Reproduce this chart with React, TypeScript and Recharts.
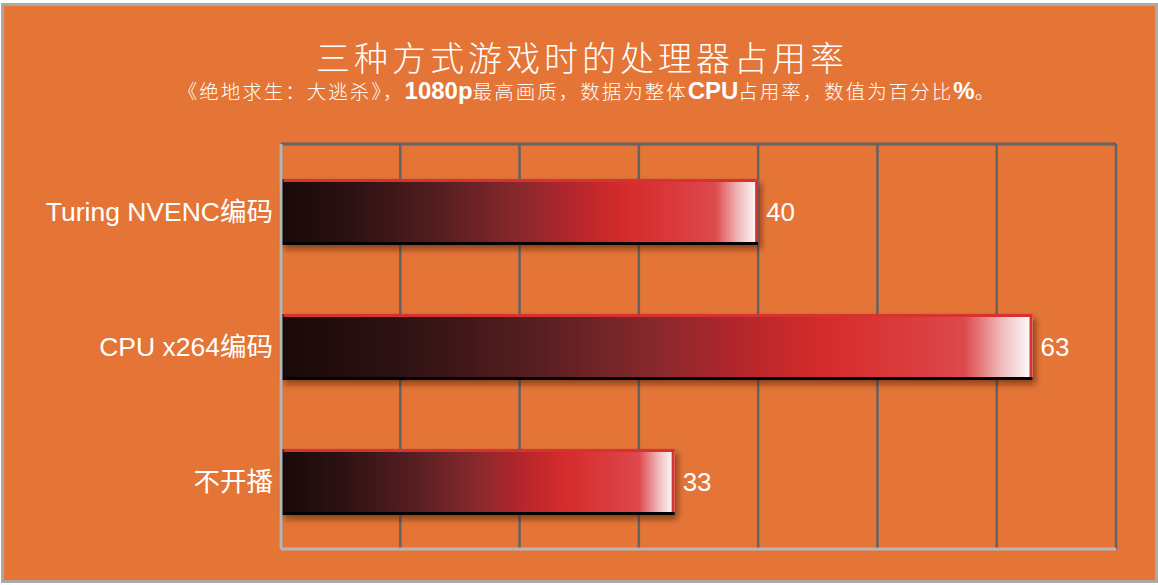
import React from 'react';
import {
    BarChart,
    Bar,
    XAxis,
    YAxis,
    CartesianGrid,
    LabelList
} from 'recharts';

const categories = ['Turing NVENC编码', 'CPU x264编码', '不开播'];
const cpuUsage = [40, 63, 33];
const xTicks = [0, 10, 20, 30, 40, 50, 60, 70];

const data = categories.map((name, i) => ({ name, value: cpuUsage[i] }));

const ORANGE = '#e47537';
const FONT = '"Liberation Sans", Arial, "Noto Sans CJK SC", sans-serif';
const boldPart = { fontFamily: FONT, fontWeight: 700, fontSize: 24, letterSpacing: 0 };

const GlossyBar = (props: any) => {
    const { x, y, width, height } = props;
    if (!width || width <= 0) return null;
    return (
        <g>
            <rect x={x + 3} y={y + 4} width={width} height={height} fill="rgba(60,20,0,0.55)" filter="url(#barShadow)" />
            <rect x={x} y={y} width={width} height={height} fill="url(#barGrad)" />
            <rect x={x} y={y} width={width} height={3} fill="#d83230" />
            <rect x={width + x - 3} y={y} width={3} height={height} fill="#d83230" />
            <rect x={x} y={y} width={2.5} height={height} fill="#0c0505" />
            <rect x={x} y={y + height - 3} width={width} height={3} fill="#050202" />
        </g>
    );
};

const NoTick = () => <g />;

const App = () => {
    return (
        <div style={{ position: 'fixed', left: 0, top: 0, width: 1158, height: 585, background: '#fff' }}>
            <div
                style={{
                    position: 'absolute',
                    left: 1,
                    top: 3,
                    width: 1151,
                    height: 574,
                    border: '3px solid #a9a9a9',
                    background: ORANGE
                }}
            />
            <div
                style={{
                    position: 'absolute',
                    left: 0,
                    top: 40,
                    width: 1164,
                    textAlign: 'center',
                    color: '#fff',
                    fontFamily: '"Noto Sans CJK SC", sans-serif',
                    fontWeight: 300,
                    fontSize: 34,
                    letterSpacing: 4,
                    lineHeight: '34px'
                }}
            >
                三种方式游戏时的处理器占用率
            </div>
            <div
                style={{
                    position: 'absolute',
                    left: 0,
                    top: 79,
                    width: 1174,
                    textAlign: 'center',
                    color: '#fff',
                    fontFamily: '"Noto Sans CJK SC", sans-serif',
                    fontWeight: 300,
                    fontSize: 19.5,
                    letterSpacing: 2,
                    lineHeight: '24px',
                    whiteSpace: 'nowrap'
                }}
            >
                《绝地求生：大逃杀》，<b style={boldPart}>1080p</b>最高画质，数据为整体
                <b style={boldPart}>CPU</b>占用率，数值为百分比
                <b style={boldPart}>%</b>。
            </div>
            <div style={{ position: 'absolute', left: 0, top: 0 }}>
                <BarChart
                    width={1158}
                    height={585}
                    data={data}
                    layout="vertical"
                    margin={{ top: 142, right: 42, bottom: 34, left: 0 }}
                >
                    <defs>
                        <linearGradient id="barGrad" x1="0" y1="0" x2="1" y2="0">
                            <stop offset="0%" stopColor="#1a0909" />
                            <stop offset="15%" stopColor="#2c1112" />
                            <stop offset="35%" stopColor="#5a1f22" />
                            <stop offset="50%" stopColor="#88292c" />
                            <stop offset="60%" stopColor="#b0262c" />
                            <stop offset="72%" stopColor="#d62b2b" />
                            <stop offset="84%" stopColor="#db3c3f" />
                            <stop offset="91%" stopColor="#dd4a4d" />
                            <stop offset="96%" stopColor="#f0bcbd" />
                            <stop offset="100%" stopColor="#ffffff" />
                        </linearGradient>
                        <filter id="barShadow" x="-5%" y="-30%" width="110%" height="160%">
                            <feGaussianBlur stdDeviation="3" />
                        </filter>
                    </defs>
                    <CartesianGrid horizontal={false} stroke="#636363" strokeWidth={2.5} />
                    <XAxis
                        type="number"
                        domain={[0, 70]}
                        ticks={xTicks}
                        interval={0}
                        tick={<NoTick />}
                        tickLine={false}
                        height={2}
                        axisLine={{ stroke: '#b5b5b5', strokeWidth: 3 }}
                    />
                    <XAxis
                        xAxisId="top"
                        orientation="top"
                        type="number"
                        domain={[0, 70]}
                        ticks={xTicks}
                        tick={false}
                        tickLine={false}
                        height={2}
                        axisLine={{ stroke: '#636363', strokeWidth: 3 }}
                    />
                    <YAxis
                        type="category"
                        dataKey="name"
                        width={281}
                        tickLine={false}
                        axisLine={{ stroke: '#b5b5b5', strokeWidth: 3 }}
                        tick={{ fill: '#ffffff', fontSize: 26.5, fontFamily: FONT }}
                    />
                    <Bar dataKey="value" barSize={66} shape={<GlossyBar />} isAnimationActive={false}>
                        <LabelList
                            dataKey="value"
                            position="right"
                            offset={8}
                            fill="#ffffff"
                            fontSize={26}
                            fontFamily={FONT}
                        />
                    </Bar>
                </BarChart>
            </div>
        </div>
    );
};

export default App;
